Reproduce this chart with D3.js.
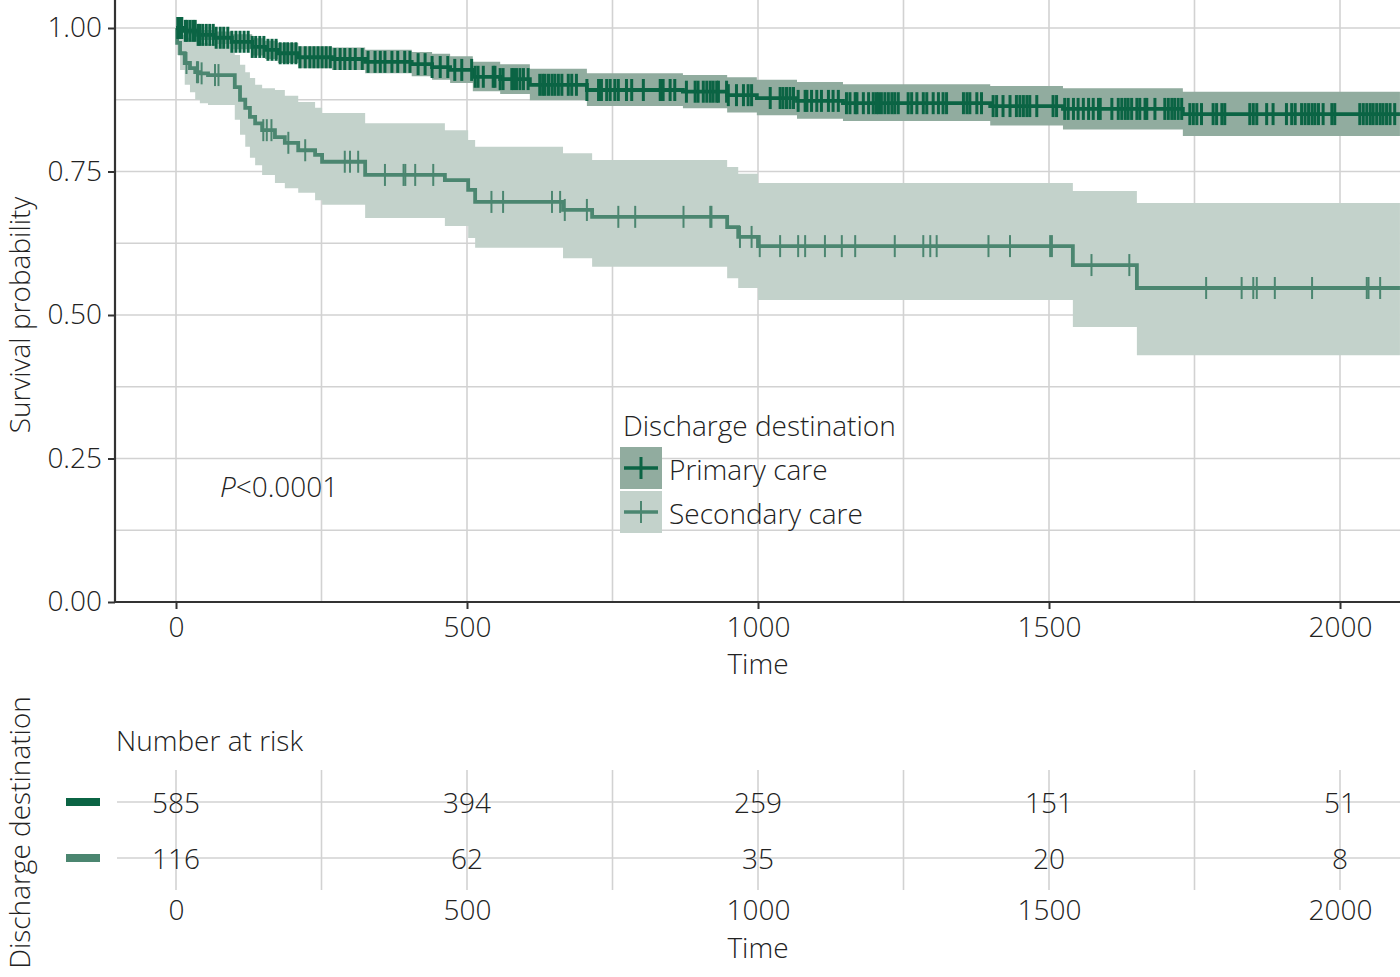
<!DOCTYPE html>
<html>
<head>
<meta charset="utf-8">
<script src="https://cdn.jsdelivr.net/npm/d3@7"></script>
<style>
  body { margin: 0; background: #fff; }
  svg text { font-family: "Open Sans", sans-serif; font-weight: 300; fill: #222; }
</style>
</head>
<body>
<svg id="chart" width="1400" height="977"></svg>
<script>
'use strict';

// ---- data ----
const groups = ['Primary care', 'Secondary care'];

const primaryTime  = [0, 15, 38, 67, 96, 131, 153, 175, 210, 268, 325, 405, 440, 471, 510, 557, 608, 706, 871, 947, 998, 1067, 1146, 1399, 1524, 1730];
const primarySurv  = [1.000, 0.995, 0.988, 0.983, 0.976, 0.967, 0.962, 0.956, 0.949, 0.946, 0.941, 0.937, 0.932, 0.927, 0.915, 0.911, 0.901, 0.892, 0.889, 0.883, 0.878, 0.873, 0.869, 0.864, 0.859, 0.850];
const primaryLower = [1.000, 0.989, 0.979, 0.972, 0.963, 0.952, 0.946, 0.939, 0.930, 0.927, 0.921, 0.916, 0.910, 0.904, 0.890, 0.885, 0.874, 0.864, 0.860, 0.853, 0.848, 0.842, 0.838, 0.830, 0.823, 0.812];
const primaryUpper = [1.000, 1.000, 0.997, 0.994, 0.989, 0.982, 0.978, 0.974, 0.968, 0.966, 0.962, 0.958, 0.955, 0.951, 0.941, 0.937, 0.929, 0.921, 0.918, 0.914, 0.910, 0.906, 0.902, 0.899, 0.895, 0.889];
const primaryCensor = [3, 7, 10, 16, 19, 24, 29, 33, 38, 41, 46, 52, 58, 64, 69, 76, 82, 89, 96, 103, 110, 117, 124, 131, 137, 144, 151, 158, 165, 172, 179, 186, 192, 199, 206, 213, 222, 230, 237, 244, 251, 258, 265, 273, 282, 290, 299, 308, 320, 330, 342, 351, 359, 371, 381, 393, 402, 416, 428, 440, 454, 467, 479, 491,
  508, 514, 519, 528, 545, 548, 557, 562, 577, 580, 585, 591, 597, 605, 625, 630, 634, 640, 646, 651, 657, 663, 674, 680, 688, 706, 726, 731, 740, 746, 754, 760, 774, 783, 803, 832, 834, 837, 849, 857, 877, 892, 897, 906, 912, 918, 923, 929, 932, 946, 949, 963, 975, 983, 989, 1021, 1038, 1043, 1049, 1055, 1061, 1069,
  1081, 1084, 1092, 1101, 1109, 1121, 1129, 1138, 1152, 1158, 1167, 1170, 1181, 1190, 1198, 1203, 1207, 1212, 1218, 1224, 1230, 1235, 1241, 1258, 1264, 1273, 1284, 1290, 1301, 1310, 1318, 1324, 1353, 1359, 1364, 1376, 1384, 1404, 1410, 1421, 1433, 1444, 1450, 1456, 1462, 1467, 1479, 1507, 1513, 1527, 1533, 1542, 1550, 1559, 1568, 1576, 1585, 1588,
  1608, 1619, 1625, 1631, 1636, 1642, 1651, 1656, 1665, 1668, 1682, 1699, 1705, 1711, 1716, 1722, 1728, 1742, 1748, 1754, 1762, 1782, 1788, 1797, 1802, 1845, 1851, 1857, 1874, 1885, 1908, 1917, 1923, 1934, 1940, 1946, 1952, 1957, 1963, 1971, 1986, 1991, 2034, 2040, 2046, 2052, 2057, 2063, 2069, 2074, 2080, 2086, 2094];

const secondaryTime  = [0, 2, 7, 15, 24, 33, 41, 55, 101, 110, 119, 127, 136, 148, 170, 187, 210, 239, 251, 325, 462, 502, 514, 665, 715, 947, 966, 1000, 1541, 1651];
const secondarySurv  = [1.000, 0.974, 0.956, 0.939, 0.930, 0.923, 0.921, 0.918, 0.897, 0.875, 0.861, 0.845, 0.834, 0.822, 0.810, 0.800, 0.787, 0.779, 0.767, 0.744, 0.735, 0.718, 0.697, 0.683, 0.671, 0.653, 0.636, 0.620, 0.587, 0.547];
const secondaryLower = [1.000, 0.953, 0.927, 0.901, 0.888, 0.875, 0.869, 0.866, 0.840, 0.814, 0.793, 0.774, 0.761, 0.744, 0.730, 0.721, 0.713, 0.700, 0.692, 0.669, 0.655, 0.634, 0.617, 0.599, 0.584, 0.564, 0.547, 0.526, 0.479, 0.430];
const secondaryUpper = [1.000, 0.997, 0.988, 0.983, 0.979, 0.976, 0.974, 0.972, 0.953, 0.936, 0.923, 0.913, 0.901, 0.895, 0.892, 0.882, 0.871, 0.861, 0.852, 0.834, 0.822, 0.805, 0.793, 0.782, 0.770, 0.758, 0.746, 0.730, 0.716, 0.695];
const secondaryCensor = [18, 36, 38, 44, 67, 73, 150, 156, 164, 193, 222, 290, 299, 313, 359, 391, 394, 411, 442, 542, 562, 646, 660, 668, 706, 760, 789, 872, 918, 920, 969, 989, 1003, 1038, 1069, 1081, 1115, 1144, 1167, 1235, 1284, 1296, 1307, 1396, 1433, 1502, 1505, 1573, 1638, 1770, 1831, 1851, 1857, 1888, 1952, 2046, 2049, 2069];

const maxTime = 2103;

const xTicks = [0, 500, 1000, 1500, 2000];
const yTicks = [0, 0.25, 0.5, 0.75, 1];

const riskTimes = [0, 500, 1000, 1500, 2000];
const riskPrimary = [585, 394, 259, 151, 51];
const riskSecondary = [116, 62, 35, 20, 8];

// ---- look ----
const lineColor = ['#0b6444', '#4b8670'];
const bandColor = ['#91ac9f', '#c3d2cb'];
const gridColor = '#d2d2d2';
const fs = 28;
const font = '"Open Sans", sans-serif';

const panel = { left: 115, right: 1400, top: 0, bottom: 602 };

const svg = d3.select('#chart');
svg.append('rect').attr('width', 1400).attr('height', 977).attr('fill', '#fff');

const x = d3.scaleLinear().domain([0, 2000]).range([176, 1340]);
const y = d3.scaleLinear().domain([0, 1]).range([602, 28]);

svg.append('defs').append('clipPath').attr('id', 'clip')
    .append('rect')
    .attr('x', panel.left).attr('y', panel.top)
    .attr('width', panel.right - panel.left).attr('height', panel.bottom - panel.top);

// grid
const grid = svg.append('g');
const yGrid = d3.range(0, 1.001, 0.125);
const xGrid = d3.range(0, 2001, 250);
grid.selectAll('line.h').data(yGrid).join('line')
    .attr('x1', panel.left).attr('x2', panel.right)
    .attr('y1', d => y(d)).attr('y2', d => y(d))
    .attr('stroke', gridColor).attr('stroke-width', 1.6);
grid.selectAll('line.v').data(xGrid).join('line')
    .attr('x1', d => x(d)).attr('x2', d => x(d))
    .attr('y1', panel.top).attr('y2', panel.bottom)
    .attr('stroke', gridColor).attr('stroke-width', 1.6);

// curves
const series = [
    { time: primaryTime, surv: primarySurv, lo: primaryLower, hi: primaryUpper, censor: primaryCensor },
    { time: secondaryTime, surv: secondarySurv, lo: secondaryLower, hi: secondaryUpper, censor: secondaryCensor }
];

function stepRows(s) {
    const rows = s.time.map((t, i) => ({ t: t, s: s.surv[i], lo: s.lo[i], hi: s.hi[i] }));
    const last = rows[rows.length - 1];
    rows.push({ t: maxTime, s: last.s, lo: last.lo, hi: last.hi });
    return rows;
}

function survAt(s, t) {
    const i = d3.bisectRight(s.time, t) - 1;
    return s.surv[Math.max(i, 0)];
}

const plot = svg.append('g').attr('clip-path', 'url(#clip)');

const area = d3.area().curve(d3.curveStepAfter)
    .x(d => x(d.t)).y0(d => y(d.lo)).y1(d => y(d.hi));
const line = d3.line().curve(d3.curveStepAfter)
    .x(d => x(d.t)).y(d => y(d.s));

// bands: secondary under primary
[1, 0].forEach(i => {
    plot.append('path').datum(stepRows(series[i]))
        .attr('d', area).attr('fill', bandColor[i]);
});

[1, 0].forEach(i => {
    const s = series[i];
    plot.append('path').datum(stepRows(s))
        .attr('d', line)
        .attr('fill', 'none')
        .attr('stroke', lineColor[i])
        .attr('stroke-width', 3.8);
    plot.append('g').selectAll('line').data(s.censor).join('line')
        .attr('x1', d => x(d)).attr('x2', d => x(d))
        .attr('y1', d => y(survAt(s, d)) - 11)
        .attr('y2', d => y(survAt(s, d)) + 11)
        .attr('stroke', lineColor[i])
        .attr('stroke-width', i === 0 ? 3 : 2);
});

// axes
const yAxis = svg.append('g').attr('transform', `translate(${panel.left},0)`)
    .call(d3.axisLeft(y).tickValues(yTicks).tickFormat(d3.format('.2f')).tickSize(7).tickPadding(6));
const xAxis = svg.append('g').attr('transform', `translate(0,${panel.bottom})`)
    .call(d3.axisBottom(x).tickValues(xTicks).tickFormat(d3.format('d')).tickSize(7).tickPadding(8));
[yAxis, xAxis].forEach(g => {
    g.select('.domain').remove();
    g.selectAll('.tick line').attr('stroke', '#333').attr('stroke-width', 2);
    g.selectAll('.tick text').attr('font-size', fs).attr('font-family', font).attr('fill', '#222');
});
svg.append('line').attr('x1', panel.left).attr('x2', panel.left)
    .attr('y1', panel.top).attr('y2', panel.bottom + 1)
    .attr('stroke', '#333').attr('stroke-width', 2.2);
svg.append('line').attr('x1', panel.left - 1).attr('x2', panel.right)
    .attr('y1', panel.bottom).attr('y2', panel.bottom)
    .attr('stroke', '#333').attr('stroke-width', 2.2);

svg.append('text').attr('x', x(1000)).attr('y', 674)
    .attr('text-anchor', 'middle').attr('font-size', fs).text('Time');
svg.append('text')
    .attr('transform', `translate(30,${(440 + 190) / 2}) rotate(-90)`)
    .attr('text-anchor', 'middle').attr('font-size', fs).text('Survival probability');

// p value
const pv = svg.append('text').attr('x', 220).attr('y', 497).attr('font-size', fs);
pv.append('tspan').attr('font-style', 'italic').text('P');
pv.append('tspan').text('<0.0001');

// legend
const lg = svg.append('g').attr('transform', 'translate(620,0)');
lg.append('text').attr('x', 3).attr('y', 436).attr('font-size', fs).text('Discharge destination');
groups.forEach((g, i) => {
    const top = 447 + i * 44;
    lg.append('rect').attr('x', 0).attr('y', top).attr('width', 42).attr('height', 42).attr('fill', bandColor[i]);
    lg.append('line').attr('x1', 4).attr('x2', 38).attr('y1', top + 21).attr('y2', top + 21)
        .attr('stroke', lineColor[i]).attr('stroke-width', 3.5);
    lg.append('line').attr('x1', 21).attr('x2', 21).attr('y1', top + 10).attr('y2', top + 32)
        .attr('stroke', lineColor[i]).attr('stroke-width', i === 0 ? 3 : 2);
    lg.append('text').attr('x', 49).attr('y', top + 23).attr('dy', '0.35em')
        .attr('font-size', fs).text(g);
});

// ---- number at risk table ----
svg.append('text').attr('x', 116).attr('y', 751).attr('font-size', fs).text('Number at risk');

const rowY = [802, 858];
const tbl = svg.append('g');
tbl.selectAll('line.h').data(rowY).join('line')
    .attr('x1', 117).attr('x2', 1400)
    .attr('y1', d => d).attr('y2', d => d)
    .attr('stroke', gridColor).attr('stroke-width', 1.6);
tbl.selectAll('line.v').data(xGrid).join('line')
    .attr('x1', d => x(d)).attr('x2', d => x(d))
    .attr('y1', 770).attr('y2', 890)
    .attr('stroke', gridColor).attr('stroke-width', 1.6);

[riskPrimary, riskSecondary].forEach((vals, i) => {
    tbl.append('rect').attr('x', 66).attr('y', rowY[i] - 4).attr('width', 34).attr('height', 8)
        .attr('fill', lineColor[i]);
    tbl.selectAll(null).data(riskTimes).join('text')
        .attr('x', d => x(d)).attr('y', rowY[i] + 1).attr('dy', '0.35em')
        .attr('text-anchor', 'middle').attr('font-size', fs)
        .text((d, j) => vals[j]);
});

const tAxis = svg.append('g').attr('transform', 'translate(0,890)')
    .call(d3.axisBottom(x).tickValues(xTicks).tickFormat(d3.format('d')).tickSize(0).tickPadding(10));
tAxis.select('.domain').remove();
tAxis.selectAll('.tick text').attr('font-size', fs).attr('font-family', font).attr('fill', '#222');

svg.append('text').attr('x', x(1000)).attr('y', 958)
    .attr('text-anchor', 'middle').attr('font-size', fs).text('Time');
svg.append('text')
    .attr('transform', `translate(30,${(690 + 975) / 2}) rotate(-90)`)
    .attr('text-anchor', 'middle').attr('font-size', fs).text('Discharge destination');
</script>
</body>
</html>
